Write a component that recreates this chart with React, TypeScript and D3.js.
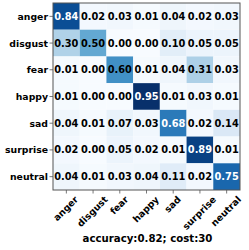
import React from 'react';
import * as d3 from 'd3';

const labels = ['anger', 'disgust', 'fear', 'happy', 'sad', 'surprise', 'neutral'];
const matrix = [
  [0.84, 0.02, 0.03, 0.01, 0.04, 0.02, 0.03],
  [0.30, 0.50, 0.00, 0.00, 0.10, 0.05, 0.05],
  [0.01, 0.00, 0.60, 0.01, 0.04, 0.31, 0.03],
  [0.01, 0.00, 0.00, 0.95, 0.01, 0.03, 0.01],
  [0.04, 0.01, 0.07, 0.03, 0.68, 0.02, 0.14],
  [0.02, 0.00, 0.05, 0.02, 0.01, 0.89, 0.01],
  [0.04, 0.01, 0.03, 0.04, 0.11, 0.02, 0.75],
];
const title = 'accuracy:0.82; cost:30';

const W = 249;
const H = 250;
const m = { left: 53, right: 9, top: 3, bottom: 60 };
const tickFont = 9.3;

// rough DejaVu Sans Bold advance widths (em) to centre rotated labels on their ticks
const charW: Record<string, number> = {
  a: 0.675, d: 0.716, e: 0.678, f: 0.435, g: 0.716, h: 0.712, i: 0.343, l: 0.343,
  n: 0.712, p: 0.716, r: 0.493, s: 0.595, t: 0.478, u: 0.712, y: 0.652,
};
const textLen = (s: string) => s.split('').reduce((acc, c) => acc + (charW[c] ?? 0.6), 0) * tickFont;

export default function App() {
  const x = d3.scaleBand<string>().domain(labels).range([m.left, W - m.right]);
  const y = d3.scaleBand<string>().domain(labels).range([m.top, H - m.bottom]);
  const vmax = d3.max(matrix.flat()) as number;
  const color = d3.scaleSequential(d3.interpolateBlues).domain([0, vmax]);
  const font = 'DejaVu Sans, sans-serif';
  const bw = x.bandwidth();
  const bh = y.bandwidth();
  const axisY = H - m.bottom;
  const hText = tickFont * 1.04;

  return (
    <svg width={W} height={H} style={{ position: 'absolute', left: 0, top: 0 }}>
      <rect width={W} height={H} fill="white" />
      {matrix.map((row, i) =>
        row.map((v, j) => (
          <g key={`${i}-${j}`}>
            <rect x={x(labels[j])} y={y(labels[i])} width={bw} height={bh} fill={color(v)} />
            <text
              x={(x(labels[j]) as number) + bw / 2}
              y={(y(labels[i]) as number) + bh / 2}
              textAnchor="middle"
              dominantBaseline="central"
              fontFamily={font}
              fontWeight="bold"
              fontSize={9.8}
              fill={v > vmax * 0.68 ? 'white' : 'black'}
            >
              {v.toFixed(2)}
            </text>
          </g>
        ))
      )}
      <rect
        x={m.left}
        y={m.top}
        width={W - m.left - m.right}
        height={H - m.top - m.bottom}
        fill="none"
        stroke="#555"
        strokeWidth={1}
      />
      {labels.map((l) => {
        const cy = (y(l) as number) + bh / 2;
        return (
          <g key={`y-${l}`}>
            <line x1={m.left - 3.5} x2={m.left} y1={cy} y2={cy} stroke="#555" strokeWidth={0.8} />
            <text
              x={m.left - 5}
              y={cy}
              textAnchor="end"
              dominantBaseline="central"
              fontFamily={font}
              fontWeight="bold"
              fontSize={tickFont}
              fill="black"
            >
              {l}
            </text>
          </g>
        );
      })}
      {labels.map((l) => {
        const cx = (x(l) as number) + bw / 2;
        const dx = 0.3536 * (textLen(l) - hText);
        return (
          <g key={`x-${l}`}>
            <line x1={cx} x2={cx} y1={axisY} y2={axisY + 3.5} stroke="#555" strokeWidth={0.8} />
            <text
              transform={`translate(${(cx + dx).toFixed(2)},${axisY + 5}) rotate(-45)`}
              textAnchor="end"
              dominantBaseline="hanging"
              fontFamily={font}
              fontWeight="bold"
              fontSize={tickFont}
              fill="black"
            >
              {l}
            </text>
          </g>
        );
      })}
      <text
        x={(m.left + W - m.right) / 2 + 1}
        y={242}
        textAnchor="middle"
        fontFamily={font}
        fontWeight="bold"
        fontSize={10.2}
        fill="black"
      >
        {title}
      </text>
    </svg>
  );
}
